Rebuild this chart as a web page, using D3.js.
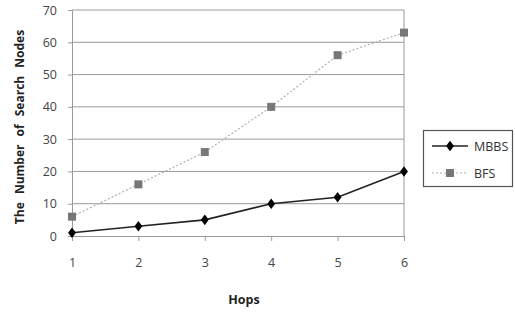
<!DOCTYPE html>
<html><head><meta charset="utf-8">
<script src="https://cdn.jsdelivr.net/npm/d3@7"></script>
<style>body{margin:0;background:#fff;}svg{display:block;font-family:"Open Sans",sans-serif;}</style>
</head><body>
<svg id="c" width="515" height="312"></svg>
<script>
const hops = [1, 2, 3, 4, 5, 6];
const mbbs = [1, 3, 5, 10, 12, 20];
const bfs = [6, 16, 26, 40, 56, 63];
const yTicks = [0, 10, 20, 30, 40, 50, 60, 70];

const svg = d3.select("#c");
const L = 72, R = 404, T = 10, B = 236;
const x = d3.scaleLinear().domain([1, 6]).range([L, R]);
const y = d3.scaleLinear().domain([0, 70]).range([B, T]);

// gridlines
svg.append("g").selectAll("line").data(yTicks.filter(d => d > 0)).join("line")
  .attr("x1", L).attr("x2", R).attr("y1", d => y(d)).attr("y2", d => y(d))
  .attr("stroke", "#9a9a9a").attr("stroke-width", 1);
svg.append("line").attr("x1", R).attr("x2", R).attr("y1", T).attr("y2", B)
  .attr("stroke", "#9a9a9a");

// y axis
const ya = svg.append("g").attr("transform", `translate(${L},0)`)
  .call(d3.axisLeft(y).tickValues(yTicks).tickFormat(d3.format("d")).tickSize(4).tickPadding(11));
ya.select(".domain").attr("stroke", "#9a9a9a");
ya.selectAll(".tick line").attr("stroke", "#9a9a9a");
ya.selectAll("text").attr("font-size", 12.5).attr("fill", "#444").attr("font-family", "Open Sans");

// x axis
const xa = svg.append("g").attr("transform", `translate(0,${B})`)
  .call(d3.axisBottom(x).tickValues(hops).tickFormat(d3.format("d")).tickSize(5).tickPadding(17).tickSizeOuter(0));
xa.select(".domain").attr("stroke", "#9a9a9a");
xa.selectAll(".tick line").attr("stroke", "#9a9a9a");
xa.selectAll("text").attr("font-size", 12.5).attr("fill", "#444").attr("font-family", "Open Sans");

// lines
const line = d3.line().x((d, i) => x(hops[i])).y(d => y(d));
svg.append("path").datum(bfs).attr("d", line).attr("fill", "none")
  .attr("stroke", "#b0b0b0").attr("stroke-width", 1.2).attr("stroke-dasharray", "2,2");
svg.append("path").datum(mbbs).attr("d", line).attr("fill", "none")
  .attr("stroke", "#222").attr("stroke-width", 1.6);

// markers
svg.append("g").selectAll("rect").data(bfs).join("rect")
  .attr("x", (d, i) => x(hops[i]) - 4).attr("y", d => y(d) - 4)
  .attr("width", 8).attr("height", 8).attr("fill", "#777");
const diamond = d3.symbol().type(d3.symbolDiamond).size(40);
svg.append("g").selectAll("path").data(mbbs).join("path")
  .attr("d", diamond).attr("transform", (d, i) => `translate(${x(hops[i])},${y(d)}) scale(1.15,0.9)`)
  .attr("fill", "#000");

// axis titles
svg.append("text").attr("x", 244).attr("y", 304).attr("text-anchor", "middle")
  .attr("font-size", 12.5).attr("font-weight", "bold").attr("fill", "#222").text("Hops");
svg.append("text").attr("transform", "translate(24,127) rotate(-90)").attr("text-anchor", "middle")
  .attr("font-size", 12).attr("font-weight", "bold").attr("fill", "#222")
  .attr("word-spacing", 5).text("The Number of Search Nodes");

// legend
const lg = svg.append("g");
lg.append("rect").attr("x", 423.5).attr("y", 130.5).attr("width", 89).attr("height", 56)
  .attr("fill", "#fff").attr("stroke", "#555").attr("stroke-width", 1.2);
const series = [{name: "MBBS", yy: 146}, {name: "BFS", yy: 173}];
lg.append("line").attr("x1", 432).attr("x2", 468).attr("y1", 146).attr("y2", 146)
  .attr("stroke", "#222").attr("stroke-width", 1.6);
lg.append("path").attr("d", diamond).attr("transform", "translate(450,146) scale(1.15,0.9)").attr("fill", "#000");
lg.append("line").attr("x1", 432).attr("x2", 468).attr("y1", 173).attr("y2", 173)
  .attr("stroke", "#b0b0b0").attr("stroke-width", 1.2).attr("stroke-dasharray", "2,2");
lg.append("rect").attr("x", 446).attr("y", 169).attr("width", 8).attr("height", 8).attr("fill", "#777");
lg.selectAll("text").data(series).join("text").attr("x", 474).attr("y", d => d.yy + 4.5)
  .attr("font-size", 12.5).attr("fill", "#333").text(d => d.name);
</script>
</body></html>
